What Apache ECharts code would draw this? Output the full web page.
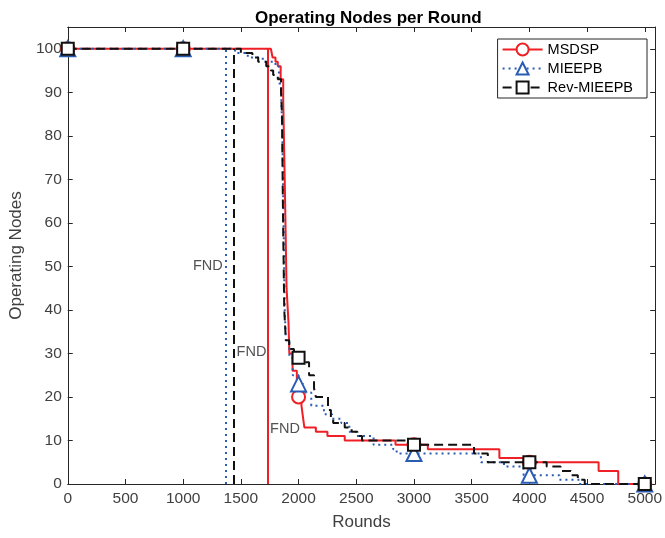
<!DOCTYPE html>
<html lang="en">
<head>
<meta charset="UTF-8">
<title>Operating Nodes per Round</title>
<script src="https://cdn.jsdelivr.net/npm/echarts@6/dist/echarts.min.js"></script>
<style>
  html, body { margin: 0; padding: 0; background: #fff; }
  #main { width: 665px; height: 538px; }
</style>
</head>
<body>
<div id="main"></div>
<script type="text/javascript">
    // change points [round, nodes]; each value holds until the next point
    var msdsp = [
        [0, 100], [1000, 100], [1760, 100], [1775, 98], [1800, 97], [1820, 96], [1845, 93],
        [1867, 88], [1880, 70], [1896, 45], [1913, 37], [1920, 30], [1948, 26], [1985, 21],
        [2000, 20], [2025, 18], [2040, 15], [2050, 13], [2150, 12], [2250, 11], [2400, 10],
        [2840, 9], [3000, 9], [3120, 8], [3740, 6], [3990, 5], [4000, 5], [4600, 3],
        [4770, 0], [5000, 0]
    ];
    var mieepb = [
        [0, 100], [1000, 100], [1400, 100], [1450, 99], [1560, 98], [1690, 97], [1800, 96],
        [1830, 92], [1850, 89], [1860, 80], [1870, 60], [1880, 40], [1890, 33], [1920, 29],
        [1950, 25], [2000, 23], [2040, 21], [2110, 18], [2220, 16], [2290, 15], [2370, 14],
        [2440, 12], [2500, 11], [2650, 9], [2820, 8], [2850, 7], [3000, 7], [3580, 5],
        [3780, 4], [3950, 2], [4000, 2], [4260, 1], [4440, 0], [5000, 0]
    ];
    var revMieepb = [
        [0, 100], [1000, 100], [1440, 100], [1500, 99], [1600, 98], [1650, 97], [1720, 96],
        [1760, 95], [1780, 94], [1820, 93], [1848, 90], [1856, 85], [1866, 60], [1876, 40],
        [1890, 33], [1919, 31], [1960, 30], [2000, 29], [2063, 28], [2091, 25], [2134, 22],
        [2150, 20], [2255, 17], [2280, 15], [2300, 14], [2400, 13], [2460, 12], [2510, 11],
        [2550, 10], [2950, 9], [3000, 9], [3520, 7], [3640, 5], [4000, 5], [4150, 4],
        [4270, 3], [4360, 2], [4420, 1], [4480, 0], [5000, 0]
    ];
    var markerRounds = [0, 1000, 2000, 3000, 4000, 5000];
    // first node dead: MSDSP, MIEEPB, Rev-MIEEPB
    var fndRounds = [1730, 1370, 1440];
    var fndLabels = [[1753, 12.6], [1085, 50], [1463, 30.3]];
    var xTicks = [0, 500, 1000, 1500, 2000, 2500, 3000, 3500, 4000, 4500, 5000];

    var font = '"Liberation Sans", Arial, Helvetica, sans-serif';
    var axisColor = '#262626';
    var red = '#f01f25', blue = '#2a5cb3', black = '#111111';

    function markSize(size) {
        return function (val) {
            return markerRounds.indexOf(val[0]) >= 0 ? size : 0;
        };
    }

    function fndLine(x, color, type) {
        return {
            symbol: 'none',
            silent: true,
            label: {show: false},
            lineStyle: {color: color, width: 2, type: type},
            data: [[{coord: [x, 0]}, {coord: [x, 100]}]]
        };
    }

    var boxAxis = {
        axisLine: {show: true, onZero: false, lineStyle: {color: axisColor, width: 1}},
        axisTick: {show: true, inside: true, length: 5, lineStyle: {color: axisColor}},
        splitLine: {show: false}
    };

    var option = {
        animation: false,
        backgroundColor: '#fff',
        textStyle: {fontFamily: font},
        title: {
            text: 'Operating Nodes per Round',
            left: 250,
            top: 5,
            textStyle: {fontFamily: font, fontSize: 17, fontWeight: 'bold', color: '#000'}
        },
        legend: {
            data: ['MSDSP', 'MIEEPB', 'Rev-MIEEPB'],
            orient: 'vertical',
            right: 18,
            top: 39,
            padding: [3, 14, 3, 4],
            itemWidth: 40,
            itemHeight: 15,
            itemGap: 4,
            borderColor: '#262626',
            borderWidth: 1,
            borderRadius: 0,
            backgroundColor: '#fff',
            textStyle: {fontFamily: font, fontSize: 14.5, color: '#000'}
        },
        grid: {left: 67, right: 7, top: 27, bottom: 54},
        xAxis: [
            Object.assign({}, boxAxis, {
                type: 'value', min: 0, max: 5090, interval: 500,
                name: 'Rounds', nameLocation: 'middle', nameGap: 30,
                nameTextStyle: {fontFamily: font, fontSize: 17, color: '#404040'},
                axisLabel: {
                    fontFamily: font, fontSize: 15.5, color: '#404040', margin: 7,
                    formatter: function (v) { return xTicks.indexOf(v) >= 0 ? String(v) : ''; }
                }
            }),
            Object.assign({}, boxAxis, {
                type: 'value', position: 'top', min: 0, max: 5090, interval: 500,
                axisLabel: {show: false}
            })
        ],
        yAxis: [
            Object.assign({}, boxAxis, {
                type: 'value', min: 0, max: 105, interval: 10,
                name: 'Operating Nodes', nameLocation: 'middle', nameGap: 38,
                nameTextStyle: {fontFamily: font, fontSize: 17, color: '#404040'},
                axisLabel: {
                    fontFamily: font, fontSize: 15.5, color: '#404040', margin: 6,
                    formatter: function (v) { return v % 10 === 0 && v <= 100 ? String(v) : ''; }
                }
            }),
            Object.assign({}, boxAxis, {
                type: 'value', position: 'right', min: 0, max: 105, interval: 10,
                axisLabel: {show: false}
            })
        ],
        series: [
            {
                name: 'MSDSP', type: 'line', step: 'end', data: msdsp,
                symbol: 'emptyCircle', symbolSize: markSize(13), showAllSymbol: true,
                color: red,
                lineStyle: {color: red, width: 2, type: 'solid'},
                itemStyle: {color: red, borderWidth: 1.8},
                markLine: fndLine(fndRounds[0], red, 'solid'),
                z: 3
            },
            {
                name: 'MIEEPB', type: 'line', step: 'end', data: mieepb,
                symbol: 'emptyTriangle', symbolSize: markSize(15), showAllSymbol: true,
                color: blue,
                lineStyle: {color: blue, width: 2, type: [2, 4]},
                itemStyle: {color: blue, borderWidth: 1.8},
                markLine: fndLine(fndRounds[1], blue, [2, 4]),
                z: 4
            },
            {
                name: 'Rev-MIEEPB', type: 'line', step: 'end', data: revMieepb,
                symbol: 'emptyRect', symbolSize: markSize(12), showAllSymbol: true,
                color: black,
                lineStyle: {color: black, width: 2, type: [9, 5]},
                itemStyle: {color: black, borderWidth: 1.8},
                markLine: fndLine(fndRounds[2], black, [9, 5]),
                z: 5
            },
            {
                name: 'FND', type: 'scatter', data: fndLabels, symbolSize: 0, silent: true,
                label: {
                    show: true, position: 'right', distance: 0, formatter: 'FND',
                    fontFamily: font, fontSize: 14.5, color: '#262626'
                },
                z: 6
            }
        ]
    };

    var myChart = echarts.init(document.getElementById('main'));
    myChart.setOption(option);
</script>
</body>
</html>
